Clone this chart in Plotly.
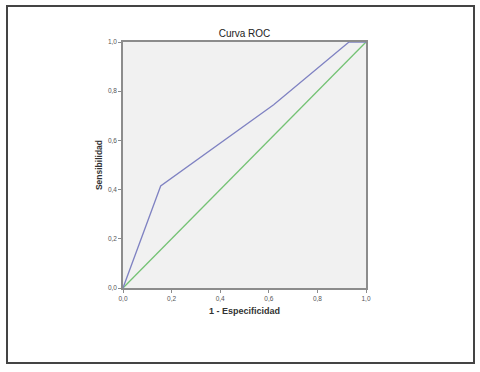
import plotly.graph_objects as go

# Data
roc_fpr = [0.0, 0.155, 0.62, 0.93, 1.0]
roc_tpr = [0.0, 0.415, 0.745, 1.0, 1.0]
ref_x = [0.0, 1.0]
ref_y = [0.0, 1.0]
tick_vals = [0.0, 0.2, 0.4, 0.6, 0.8, 1.0]

W, H = 480, 372
L, R, T, B = 123, 114, 42, 84
pw, ph = W - L - R, H - T - B

def px_x(p):
    return (p - L) / pw

def px_y(p):
    return (H - B - p) / ph

fig = go.Figure()
fig.add_trace(go.Scatter(x=ref_x, y=ref_y, mode="lines",
                         line=dict(color="#74c274", width=1.3), showlegend=False))
fig.add_trace(go.Scatter(x=roc_fpr, y=roc_tpr, mode="lines",
                         line=dict(color="#7f82c2", width=1.3), showlegend=False))

axis_common = dict(
    range=[0, 1], tickvals=tick_vals, tickformat=".1f", automargin=False,
    showgrid=False, zeroline=False, showline=True, linecolor="#8c8c8c",
    linewidth=1.5, mirror=True, ticks="outside", ticklen=3, tickcolor="#8c8c8c",
    tickfont=dict(size=6.5, color="#555555", family="Arial"),
)

fig.update_layout(
    width=W, height=H,
    margin=dict(l=L, r=R, t=T, b=B, autoexpand=False),
    paper_bgcolor="white", plot_bgcolor="#f1f1f1",
    separators=",.",
    title=dict(text="Curva ROC", x=(L + pw / 2) / W, xanchor="center",
               y=1 - 37 / H, yanchor="bottom", automargin=False,
               font=dict(size=10, color="#222222", family="Arial")),
    xaxis=dict(**axis_common,
               title=dict(text="<b>1 - Especificidad</b>", standoff=7,
                          font=dict(size=9, color="#333333", family="Arial"))),
    yaxis=dict(**axis_common,
               title=dict(text="<b>Sensibilidad</b>", standoff=4,
                          font=dict(size=8.5, color="#333333", family="Arial"))),
    shapes=[dict(type="rect", xref="paper", yref="paper",
                 x0=px_x(7), x1=px_x(474), y0=px_y(363), y1=px_y(6),
                 line=dict(color="#444444", width=2), layer="below")],
)

fig.write_html("out.html", config={"displayModeBar": False},
               post_script="document.body.style.margin='0';document.body.style.overflow='hidden';")
